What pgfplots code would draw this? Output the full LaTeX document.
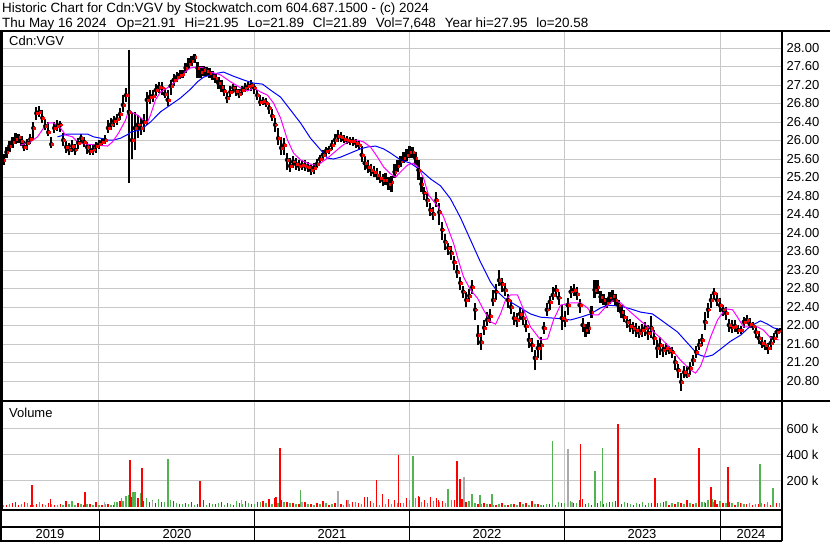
\documentclass[border=0pt]{standalone}
\usepackage{fontspec}
\setmainfont{Liberation Sans}
\usepackage{pgfplots}
\usepackage{pgfplotstable}
\pgfplotsset{compat=1.18}
\definecolor{swred}{RGB}{255,0,0}
\definecolor{swgreen}{RGB}{80,180,80}
\definecolor{swgray}{RGB}{170,170,170}
\definecolor{swgrid}{RGB}{200,200,200}
\definecolor{swmag}{RGB}{255,0,255}
\definecolor{swblue}{RGB}{0,0,255}
\newcommand{\swfont}{\fontsize{13}{14}\selectfont}

% weekly bars: week index, high, low, close
\pgfplotstableread{
w h l c
0 25.58 25.32 25.43
1 25.71 25.47 25.58
2 25.86 25.62 25.75
3 25.99 25.75 25.88
4 26.08 25.84 25.97
5 26.16 25.92 26.03
6 26.14 25.95 26.08
7 26.10 25.88 25.99
8 25.99 25.77 25.86
9 26.03 25.80 25.95
10 26.14 25.92 26.03
11 26.40 26.01 26.27
12 26.72 26.44 26.59
13 26.75 26.51 26.62
14 26.66 26.38 26.49
15 26.46 26.23 26.31
16 26.40 26.10 26.18
17 26.08 25.84 25.92
18 26.40 26.16 26.27
19 26.44 26.20 26.31
20 26.42 26.18 26.34
21 26.16 25.88 26.01
22 25.99 25.73 25.86
23 25.95 25.69 25.80
24 26.01 25.75 25.88
25 25.92 25.69 25.80
26 26.05 25.82 25.95
27 26.14 25.95 26.05
28 26.08 25.86 25.97
29 25.97 25.71 25.86
30 25.90 25.69 25.77
31 25.92 25.69 25.80
32 25.97 25.73 25.88
33 26.01 25.82 25.92
34 26.05 25.88 25.97
35 26.12 25.92 26.01
36 26.44 26.16 26.27
37 26.49 26.23 26.34
38 26.53 26.29 26.42
39 26.57 26.34 26.46
40 26.70 26.44 26.57
41 26.98 26.62 26.77
42 27.14 26.83 26.98
43 27.95 25.08 26.62
44 26.62 25.60 26.01
45 26.62 25.80 26.27
46 26.55 26.05 26.34
47 26.49 26.12 26.27
48 26.57 26.18 26.40
49 27.05 26.34 26.88
50 27.09 26.79 26.94
51 27.09 26.83 26.96
52 27.22 26.96 27.09
53 27.27 27.03 27.16
54 27.27 26.98 27.14
55 27.14 26.92 27.01
56 27.09 26.75 26.88
57 27.31 26.98 27.18
58 27.44 27.18 27.31
59 27.48 27.27 27.37
60 27.52 27.33 27.42
61 27.52 27.35 27.44
62 27.68 27.46 27.57
63 27.78 27.55 27.65
64 27.83 27.61 27.72
65 27.87 27.68 27.81
66 27.70 27.35 27.57
67 27.61 27.35 27.48
68 27.61 27.39 27.52
69 27.59 27.39 27.50
70 27.57 27.35 27.46
71 27.50 27.31 27.39
72 27.46 27.24 27.35
73 27.37 27.11 27.24
74 27.31 27.05 27.16
75 27.20 26.96 27.07
76 27.05 26.81 26.92
77 27.18 26.94 27.05
78 27.22 27.03 27.14
79 27.18 26.96 27.07
80 27.11 26.92 27.01
81 27.18 26.98 27.09
82 27.24 27.05 27.14
83 27.27 27.09 27.18
84 27.31 27.07 27.20
85 27.22 27.01 27.14
86 27.09 26.88 26.98
87 26.98 26.75 26.83
88 26.94 26.77 26.85
89 26.92 26.73 26.81
90 26.81 26.57 26.70
91 26.68 26.42 26.53
92 26.49 26.18 26.34
93 26.27 25.90 26.05
94 26.08 25.69 25.84
95 26.05 25.69 25.90
96 25.73 25.36 25.58
97 25.62 25.32 25.45
98 25.67 25.41 25.54
99 25.62 25.36 25.49
100 25.58 25.34 25.45
101 25.58 25.36 25.47
102 25.58 25.34 25.45
103 25.54 25.32 25.43
104 25.47 25.25 25.36
105 25.51 25.28 25.41
106 25.60 25.41 25.49
107 25.69 25.51 25.60
108 25.80 25.58 25.69
109 25.86 25.67 25.77
110 25.88 25.71 25.80
111 26.01 25.80 25.90
112 26.14 25.90 26.01
113 26.23 25.97 26.10
114 26.18 25.97 26.08
115 26.12 25.95 26.03
116 26.10 25.92 26.01
117 26.08 25.90 25.99
118 26.08 25.88 25.99
119 26.03 25.84 25.95
120 25.99 25.80 25.90
121 25.88 25.54 25.69
122 25.67 25.36 25.51
123 25.58 25.30 25.43
124 25.49 25.23 25.36
125 25.45 25.21 25.32
126 25.41 25.15 25.25
127 25.34 25.08 25.19
128 25.28 25.02 25.15
129 25.30 25.04 25.15
130 25.21 24.93 25.06
131 25.23 24.89 25.10
132 25.49 25.19 25.32
133 25.58 25.32 25.45
134 25.67 25.43 25.54
135 25.75 25.51 25.62
136 25.82 25.56 25.69
137 25.88 25.62 25.75
138 25.86 25.62 25.75
139 25.75 25.47 25.62
140 25.58 25.15 25.36
141 25.21 24.89 25.06
142 24.99 24.71 24.87
143 24.87 24.56 24.71
144 24.65 24.37 24.50
145 24.56 24.28 24.41
146 24.89 24.56 24.71
147 24.65 24.17 24.45
148 24.24 23.85 24.07
149 23.98 23.63 23.81
150 23.78 23.52 23.68
151 23.72 23.42 23.57
152 23.50 23.20 23.37
153 23.31 23.03 23.16
154 23.05 22.77 22.92
155 22.85 22.60 22.73
156 22.73 22.40 22.55
157 22.79 22.51 22.64
158 22.98 22.68 22.83
159 22.49 22.12 22.34
160 22.01 21.58 21.79
161 21.84 21.47 21.64
162 22.12 21.79 21.95
163 22.29 21.99 22.12
164 22.36 22.05 22.20
165 22.77 22.42 22.55
166 22.90 22.55 22.73
167 23.20 22.85 22.98
168 23.03 22.73 22.90
169 22.92 22.64 22.77
170 22.68 22.38 22.55
171 22.55 22.25 22.40
172 22.29 22.01 22.16
173 22.27 21.97 22.12
174 22.40 22.12 22.25
175 22.34 22.01 22.16
176 22.12 21.86 21.99
177 21.84 21.51 21.69
178 21.73 21.43 21.58
179 21.47 21.04 21.30
180 21.69 21.30 21.51
181 21.75 21.25 21.58
182 22.08 21.82 21.95
183 22.49 22.21 22.34
184 22.64 22.34 22.51
185 22.83 22.55 22.66
186 22.88 22.62 22.77
187 22.73 22.44 22.60
188 22.44 21.90 22.16
189 22.31 21.97 22.12
190 22.60 22.23 22.44
191 22.85 22.60 22.73
192 22.90 22.64 22.77
193 22.83 22.55 22.68
194 22.57 22.27 22.44
195 22.16 21.86 22.01
196 22.03 21.75 21.90
197 22.08 21.82 21.95
198 22.42 22.16 22.29
199 22.98 22.60 22.77
200 22.98 22.68 22.83
201 22.75 22.49 22.62
202 22.68 22.44 22.55
203 22.60 22.38 22.49
204 22.73 22.47 22.60
205 22.77 22.51 22.64
206 22.68 22.42 22.55
207 22.55 22.29 22.44
208 22.44 22.16 22.29
209 22.34 22.08 22.18
210 22.21 21.95 22.08
211 22.14 21.86 21.99
212 22.08 21.82 21.95
213 22.05 21.75 21.90
214 21.99 21.73 21.84
215 22.03 21.75 21.90
216 22.08 21.77 21.95
217 22.01 21.69 21.84
218 22.21 21.73 21.95
219 21.90 21.58 21.73
220 21.69 21.30 21.51
221 21.75 21.36 21.58
222 21.60 21.32 21.47
223 21.62 21.36 21.51
224 21.56 21.38 21.47
225 21.54 21.30 21.43
226 21.34 21.04 21.21
227 21.17 20.86 21.04
228 20.97 20.58 20.78
229 21.13 20.86 20.99
230 21.13 20.86 20.93
231 21.21 20.93 21.08
232 21.36 21.13 21.25
233 21.56 21.30 21.43
234 21.71 21.47 21.58
235 21.82 21.56 21.69
236 22.29 21.90 22.08
237 22.49 22.16 22.34
238 22.68 22.38 22.55
239 22.81 22.55 22.70
240 22.70 22.42 22.55
241 22.60 22.29 22.44
242 22.44 22.21 22.34
243 22.40 22.12 22.27
244 22.14 21.86 22.01
245 22.12 21.84 21.97
246 22.12 21.86 21.99
247 22.01 21.82 21.90
248 21.99 21.82 21.90
249 22.18 21.95 22.08
250 22.23 22.03 22.12
251 22.16 21.95 22.03
252 22.08 21.90 21.99
253 21.99 21.73 21.86
254 21.88 21.60 21.73
255 21.75 21.51 21.62
256 21.69 21.47 21.58
257 21.62 21.38 21.51
258 21.77 21.47 21.62
259 21.84 21.62 21.73
260 21.95 21.73 21.86
261 21.95 21.89 21.89
}\price

\pgfplotstableread{
w p
6.70 25.90
10.05 25.97
12.40 26.08
14.41 26.27
16.08 26.38
17.76 26.38
20.10 26.27
21.78 26.12
24.12 26.08
26.13 25.95
29.15 25.92
32.50 25.90
35.85 25.88
37.52 25.97
39.53 26.16
41.88 26.44
42.88 26.64
43.55 26.62
45.90 26.55
47.91 26.44
49.25 26.40
50.25 26.55
51.93 26.88
53.60 27.05
55.95 27.14
59.30 27.31
61.31 27.46
63.65 27.57
66.00 27.59
68.01 27.57
70.35 27.48
73.70 27.42
77.05 27.27
80.40 27.14
82.75 27.07
84.76 27.14
87.10 27.05
89.45 26.98
91.46 26.81
93.80 26.49
96.15 26.01
98.16 25.73
100.50 25.58
102.85 25.51
104.86 25.47
107.20 25.51
109.55 25.62
111.56 25.73
113.90 25.86
116.25 25.97
119.60 26.01
121.61 25.97
123.95 25.86
126.30 25.64
128.31 25.43
130.65 25.28
132.33 25.21
134.00 25.32
136.35 25.47
138.36 25.51
140.03 25.41
141.71 25.19
143.38 24.82
145.06 24.69
146.73 24.56
148.41 24.35
150.08 24.07
151.76 23.78
153.43 23.40
155.11 23.05
157.45 22.77
159.80 22.59
161.81 22.34
164.15 22.08
165.83 22.03
167.50 22.25
169.18 22.55
170.85 22.66
173.20 22.66
174.87 22.40
177.55 21.97
180.90 21.69
183.25 21.71
185.26 22.12
187.60 22.44
190.95 22.49
194.30 22.49
196.65 22.38
198.33 22.23
200.34 22.23
202.68 22.40
205.36 22.55
207.71 22.49
211.06 22.29
214.41 22.10
217.76 21.92
221.11 21.73
224.46 21.51
227.81 21.25
231.16 21.04
232.83 20.97
234.51 21.12
236.18 21.41
237.86 21.75
240.20 22.12
242.88 22.36
245.23 22.34
246.90 22.18
248.91 21.97
251.26 21.97
253.60 21.97
255.61 21.90
257.96 21.73
260.64 21.69
}\magma

\pgfplotstableread{
w p
19.10 26.08
22.45 26.14
25.80 26.14
29.15 26.14
31.16 26.08
33.50 26.05
35.85 26.01
37.86 26.01
40.20 26.05
42.88 26.14
43.55 26.18
46.90 26.23
50.25 26.40
53.60 26.62
56.95 26.77
60.30 26.92
63.65 27.11
66.00 27.27
68.01 27.37
71.36 27.44
74.71 27.48
78.06 27.39
81.41 27.31
84.76 27.24
87.77 27.22
90.45 27.09
93.80 26.94
97.15 26.66
100.50 26.38
103.85 26.05
107.20 25.80
109.55 25.62
111.56 25.60
113.90 25.64
117.25 25.73
120.60 25.82
122.95 25.86
125.63 25.88
128.31 25.82
130.65 25.73
134.00 25.58
137.35 25.51
140.70 25.36
144.05 25.17
147.40 25.02
150.75 24.74
154.10 24.33
157.45 23.85
160.80 23.37
164.15 22.94
166.50 22.73
169.18 22.57
171.86 22.47
174.20 22.38
177.55 22.25
180.90 22.18
185.26 22.16
188.61 22.14
190.95 22.12
194.30 22.18
197.65 22.25
201.01 22.38
203.35 22.44
207.71 22.42
211.06 22.36
214.41 22.29
218.43 22.25
222.11 22.08
226.80 21.86
230.15 21.62
233.50 21.38
236.18 21.32
238.53 21.36
241.21 21.49
244.56 21.66
247.91 21.79
251.26 21.99
254.61 22.10
256.95 22.03
258.96 21.95
260.64 21.92
}\bluema

% volume in thousands
\pgfplotstableread{
w v
4.96 36
10.65 164
16.8 62
28.4 115
43.45 356
47.35 297
66.85 195
92.2 75
93.65 451
122.9 75
125.9 203
133.35 395
140.1 75
146.7 50
152.85 349
153.95 210
154.6 60
194.35 479
194.9 57
206.95 633
218.1 25
219.35 221
233.9 451
238.0 151
239.4 55
243.7 305
}\volred

\pgfplotstableread{
w v
23.9 41
38.2 35
40.5 70
42.0 85
44.3 113
56.05 369
100.5 126
138.15 387
149.85 133
158.0 100
160.7 87
164.6 95
184.95 503
199.15 272
201.65 451
235.8 36
238.5 62
254.5 326
258.75 144
}\volgreen

\pgfplotstableread{
w v
34.8 40
50.9 41
80.7 55
101.0 40
113.15 118
116.5 50
155.35 226
190.1 441
191.5 40
248.2 30
}\volgray

\pgfplotstableread{
w v
0 20
2 14
4 26
6 17
8 37
10 15
12 24
14 19
16 31
18 12
20 22
22 42
24 17
26 27
28 15
30 20
32 34
34 14
36 24
38 17
40 41
42 51
44 76
46 65
48 48
50 34
52 26
54 37
56 31
58 42
60 20
62 27
64 34
66 24
68 51
70 31
72 20
74 37
76 26
78 17
80 31
82 44
84 24
86 34
88 41
90 60
92 68
94 51
96 37
98 31
100 24
102 34
104 20
106 27
108 42
110 17
112 31
114 24
116 51
118 37
120 27
122 76
124 48
126 34
128 100
130 60
132 51
134 31
136 68
138 48
140 85
142 51
144 76
146 65
148 42
150 60
152 51
154 37
156 34
158 27
160 24
162 31
164 20
166 17
168 26
170 15
172 20
174 34
176 27
178 41
180 24
182 17
184 20
186 15
188 26
190 19
192 27
194 51
196 20
198 17
200 31
202 24
204 34
206 42
208 20
210 27
212 17
214 24
216 15
218 20
220 31
222 37
224 17
226 24
228 27
230 51
232 20
234 34
236 27
238 41
240 24
242 31
244 37
246 17
248 26
250 20
252 15
254 24
256 20
258 17
260 27
}\basered

\pgfplotstableread{
w v
1 15
3 24
5 14
7 19
9 27
11 12
13 34
15 17
17 20
19 14
21 17
23 24
25 15
27 20
29 19
31 15
33 17
35 24
37 14
39 34
41 42
43 94
45 110
47 102
49 68
51 51
53 60
55 34
57 51
59 31
61 24
63 20
65 17
67 24
69 15
71 20
73 27
75 17
77 24
79 42
81 20
83 31
85 24
87 37
89 27
91 20
93 31
95 37
97 26
99 20
101 34
103 24
105 17
107 20
109 27
111 20
113 17
115 15
117 20
119 34
121 24
123 20
125 27
127 17
129 24
131 20
133 31
135 27
137 51
139 68
141 37
143 31
145 42
147 34
149 27
151 51
153 37
155 34
157 42
159 31
161 24
163 20
165 17
167 20
169 15
171 20
173 17
175 24
177 15
179 20
181 17
183 24
185 51
187 34
189 31
191 42
193 26
195 34
197 27
199 51
201 42
203 31
205 37
207 27
209 34
211 24
213 31
215 37
217 27
219 24
221 31
223 42
225 27
227 34
229 24
231 31
233 26
235 37
237 51
239 34
241 42
243 31
245 27
247 37
249 24
251 31
253 20
255 27
257 34
259 24
261 31
}\basegreen

\pgfplotsset{swaxis/.style={
  scale only axis, width=780pt,
  xmin=0.5, xmax=261.8,
  xtick={32.99,85.09,137.02,188.94,241.04},
  xticklabels={},
  major tick length=0pt,
  xmajorgrids, ymajorgrids,
  grid style={swgrid, line width=1pt},
  axis line style={line width=1.6pt},
  tick label style={font=\swfont, text=black},
  yticklabel pos=right,
  yticklabel style={anchor=west, inner sep=0pt, xshift=4.5pt},
  /pgf/number format/assume math mode=true,
  clip=true,
}}

\begin{document}
\begin{tikzpicture}
\useasboundingbox (0,0) rectangle (830pt,543pt);
\fill[white] (0,0) rectangle (830pt,543pt);

% price panel
\begin{axis}[swaxis, at={(2pt,142pt)}, anchor=south west, height=370pt,
  ymin=20.368, ymax=28.368,
  ytick={20.8,21.2,21.6,22.0,22.4,22.8,23.2,23.6,24.0,24.4,24.8,25.2,25.6,26.0,26.4,26.8,27.2,27.6,28.0},
  yticklabel style={/pgf/number format/fixed, /pgf/number format/fixed zerofill, /pgf/number format/precision=2},
]
\addplot[only marks, mark=none, error bars/.cd, y dir=both, y explicit, error mark=none,
  error bar style={black, line width=2.2pt}]
  table[x=w, y=c, y error plus expr=\thisrow{h}-\thisrow{c}, y error minus expr=\thisrow{c}-\thisrow{l}] {\price};
\addplot[only marks, mark=square*, mark size=0.9pt, swred, mark options={draw=none, fill=swred}]
  table[x expr=\thisrow{w}+0.4, y=c] {\price};
\addplot[swblue, line width=1pt] table[x=w, y=p] {\bluema};
\addplot[swmag, line width=1pt] table[x=w, y=p] {\magma};
\end{axis}

% volume panel
\begin{axis}[swaxis, at={(2pt,33pt)}, anchor=south west, height=109pt,
  ymin=-25, ymax=813, ytick={200,400,600}, yticklabels={200 k,400 k,600 k},
]
\addplot[swred, line width=1.4pt, ycomb] table[x=w, y=v] {\basered};
\addplot[swgreen, line width=1.4pt, ycomb] table[x=w, y=v] {\basegreen};
\addplot[swgray, line width=1.6pt, ycomb] table[x=w, y=v] {\volgray};
\addplot[swgreen, line width=1.6pt, ycomb] table[x=w, y=v] {\volgreen};
\addplot[swred, line width=1.6pt, ycomb] table[x=w, y=v] {\volred};
\end{axis}

% frame lines
\draw[line width=1.6pt] (0,512pt) -- (830pt,512pt);
\draw[line width=1.6pt] (0,142pt) -- (830pt,142pt);
\draw[line width=1.6pt] (1pt,2pt) -- (1pt,512pt);
\draw[line width=1.6pt] (782pt,2pt) -- (782pt,512pt);
\draw[line width=1.6pt] (0,33pt) -- (782pt,33pt);
\draw[line width=1.6pt] (0,16pt) -- (782pt,16pt);
\draw[line width=1.6pt] (0,2pt) -- (782pt,2pt);
\foreach \x in {99,254.5,409.5,564.5,720} \draw[line width=1pt] (\x pt,2pt) -- (\x pt,33pt);

% texts
\node[anchor=base west, inner sep=0, font=\fontsize{13.4}{14}\selectfont] at (2pt,530.3pt)
  {Historic Chart for Cdn:VGV by Stockwatch.com 604.687.1500 - (c) 2024};
\node[anchor=base west, inner sep=0, font=\fontsize{13.4}{14}\selectfont] at (2pt,515.7pt)
  {Thu May 16 2024\hspace{10pt}Op=21.91\hspace{9pt}Hi=21.95\hspace{9pt}Lo=21.89\hspace{9pt}Cl=21.89\hspace{9pt}Vol=7,648\hspace{9pt}Year hi=27.95\hspace{9pt}lo=20.58};
\node[anchor=base west, inner sep=0, font=\swfont] at (9pt,497pt) {Cdn:VGV};
\node[anchor=base west, inner sep=0, font=\swfont] at (9pt,125pt) {Volume};
\foreach \x/\y in {50/2019,177/2020,332/2021,487/2022,642/2023,751/2024}
  \node[anchor=base, inner sep=0, font=\swfont] at (\x pt,4pt) {\y};
\end{tikzpicture}
\end{document}
